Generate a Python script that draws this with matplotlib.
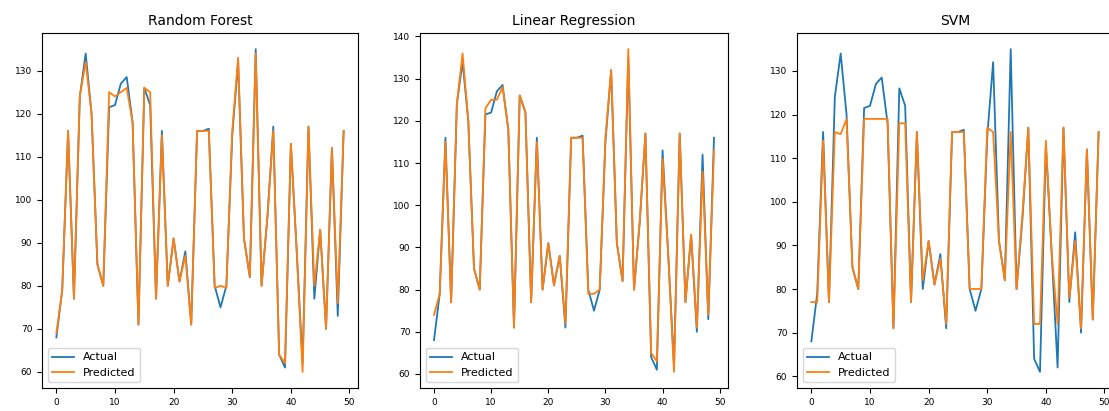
import numpy as np
import matplotlib
matplotlib.use("Agg")
from matplotlib import pyplot as plt

# actual test values
actual = [68, 79, 116, 77, 124, 134, 120, 85, 80, 121.5,
          122, 127, 128.5, 118, 71, 126, 122, 77, 116, 80,
          91, 81, 88, 71, 116, 116, 116.5, 80, 75, 80,
          115, 132, 91, 82, 135, 80, 96, 117, 64, 61,
          113, 88, 62, 117, 77, 93, 70, 112, 73, 116]

rf_pred = [69, 79, 116, 77, 124, 132, 120, 85, 80, 125,
           124, 125, 126, 118, 71, 126, 125, 77, 115, 80,
           91, 81, 87, 71, 116, 116, 116, 79.5, 80, 79.5,
           116, 133, 91, 82, 134, 80, 96, 116, 64, 62,
           113, 88, 60, 117, 80, 93, 70, 112, 76, 116]

lr_pred = [74, 79, 115, 77, 124, 136, 120, 85, 80, 123,
           125, 125, 128, 118, 71, 126, 122, 77, 115, 80,
           91, 81, 88, 72, 116, 116, 116, 79, 79, 80,
           116, 132, 91, 82, 137, 80, 96, 117, 65, 63,
           111, 88, 60.5, 117, 77, 93, 71, 108, 74, 113]

svm_pred = [77, 77, 114, 77, 116, 115.5, 119, 85, 80, 119,
            119, 119, 119, 119, 71, 118, 118, 77, 116, 82,
            91, 81, 87, 72, 116, 116, 116, 80, 80, 80,
            117, 116, 91, 82, 116, 80, 97, 117, 72, 72,
            114, 88, 72, 117, 78, 91, 71, 112, 73, 116]

models = ["Random Forest", "Linear Regression", "SVM"]
preds = [rf_pred, lr_pred, svm_pred]

fig = plt.figure(figsize=(11.09, 4.11), dpi=100)
W, H = 1109, 411
boxes = [(42, 33, 316, 355), (420, 33, 308, 355), (797, 33, 316, 355)]

x = np.arange(len(actual))
for (l, t, w, h), name, pred in zip(boxes, models, preds):
    ax = fig.add_axes([l / W, 1 - (t + h) / H, w / W, h / H])
    ax.plot(x, actual, color="tab:blue", lw=1.3, label="Actual")
    ax.plot(x, pred, color="tab:orange", lw=1.3, label="Predicted")
    ax.set_title(name, fontsize=10)
    ax.tick_params(labelsize=6.5)
    ax.legend(loc="lower left", fontsize=8)

fig.savefig("out.png", dpi=100)
